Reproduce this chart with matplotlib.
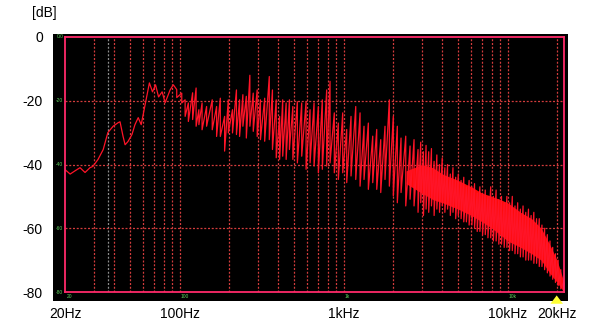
import numpy as np
import matplotlib
matplotlib.use("Agg")
import matplotlib.pyplot as plt
from matplotlib.patches import Rectangle

plt.rcParams['font.family'] = ['Liberation Sans', 'DejaVu Sans']

# low end of the spectrum, traced as a plain line (Hz, dB)
low_f = [20, 21.5, 23, 24.7, 26.5, 28.4, 29.6, 31.8, 34.2, 36.5, 39.3, 42.1, 43.3,
         45.2, 46.5, 48.4, 51.2, 53.4, 55.9, 58.3, 59.9, 63.6, 65.4, 68.3, 71.3,
         74.4, 78.2, 81.6, 87.5, 91.5]
low_db = [-41.6, -43, -42, -41, -42.5, -41, -40.6, -38.4, -35.3, -30, -28, -26.9, -26.6,
          -31.2, -33.8, -32.8, -30.6, -27.5, -25.3, -27.5, -24.4, -17.5, -14.4, -17.2, -15,
          -18.8, -17.2, -20.6, -16.6, -15]

# spiky part: each spike has a frequency, a top and a bottom level
spike_f = [96, 103, 108, 113, 120, 126, 131, 137, 146, 158, 168, 177, 188, 198, 210,
           222, 232, 243, 255, 268, 281, 297, 311, 330, 352, 368, 388, 407, 425, 446,
           467, 490, 522, 555, 590, 624, 660, 701, 741, 788, 826, 877, 928, 987, 1044,
           1109, 1185, 1259, 1331, 1414, 1504, 1591, 1683, 1787, 1899, 2008, 2124, 2238,
           2391, 2540, 2686, 2841, 2950, 3065, 3180, 3300, 3430, 3560, 3700, 3840, 3990,
           4140, 4300, 4470, 4640, 4820, 5000, 5200, 5400, 5600, 5820, 6050, 6280, 6520,
           6770, 7030, 7300, 7580, 7880, 8180, 8500, 8830, 9170, 9520, 9890, 10270, 10670,
           11080, 11510, 11950, 12410, 12890, 13390, 13900, 14440, 15000, 15580, 16180,
           16800, 17450, 18120, 18820, 19550, 20300, 21080, 21900]
spike_top = [-16.5, -17.6, -19.7, -20.7, -17.5, -16.0, -22.8, -20.7, -21.8, -19.7, -21.8,
             -19.2, -24.9, -19.7, -22.8, -16.6, -19.7, -18.1, -18.6, -12.0, -17.6, -16.6,
             -19.7, -19.2, -12.4, -16.6, -19.7, -24.9, -19.7, -20.7, -19.7, -21.8,
             -20.3, -20.7, -20.3, -22.8, -20.7, -21.8, -19.7, -16.6, -13.9, -23.8, -27,
             -23.8, -29, -24.9, -21.8, -23.8, -28, -27, -31.1, -29, -32.2, -28, -19.7,
             -24.9, -28, -31.7, -31.1, -34.2, -32.2, -35.3, -33, -36, -34, -36, -35, -39,
             -37, -40, -38, -41, -40, -43, -41, -44, -43, -45, -44, -47, -45, -47, -46,
             -49, -47, -49, -48, -50, -47, -50, -48, -51, -50, -52, -50, -52, -50, -53,
             -52, -54, -53, -55, -54, -56, -55, -57, -57, -59, -60, -62, -64, -66, -68,
             -70, -73, -77]
spike_bot = [-19, -20.7, -24.9, -26.5, -25.9, -28, -27.5, -29.1, -28, -29.1, -31.2, -31.2,
             -35.8, -30.1, -30.1, -30.6, -31.2, -28, -31.7, -28, -29.6, -31.2, -32.2,
             -32.7, -32.2, -35.3, -37.9, -38.4, -37.4, -38.4, -35.3, -38.4,
             -39.5, -37.4, -41.5, -39.5, -40.5, -42.6, -41.5, -40.5, -39.5, -42.6, -44.7,
             -42.6, -45.7, -43.6, -44.7, -46.8, -44.7, -47.8, -45.7, -47.8, -48.8, -44.7,
             -46.8, -49.9, -52, -48.8, -53, -50.9, -53, -55, -52, -56, -54, -55, -53, -56,
             -54, -55, -53, -55, -54, -56, -55, -57, -56, -57, -58, -58, -59, -59, -60,
             -61, -61, -62, -62, -63, -63, -64, -64, -65, -65, -66, -66, -67, -67, -68,
             -68, -69, -69, -70, -70, -70, -71, -71, -72, -72, -73, -74, -75, -76, -77,
             -78, -79, -80]

# dense core of the high-frequency band
band_f = [2400, 3000, 3500, 4000, 5000, 6000, 7000, 8000, 9000, 10000, 12000,
          14000, 16000, 18000, 20000, 22050]
band_hi = [-42, -40, -41, -43, -45, -47, -49, -50, -51, -52, -55, -57, -60, -65, -70, -77]
band_lo = [-46, -49, -51, -52, -54, -56, -58, -60, -62, -64, -66, -68, -70, -74, -77, -80]

x_ticks = [20, 100, 1000, 10000, 20000]
x_labels = ['20Hz', '100Hz', '1kHz', '10kHz', '20kHz']
y_ticks = [0, -20, -40, -60, -80]
y_labels = ['0', '-20', '-40', '-60', '-80']
grid_f = [30, 40, 50, 60, 70, 80, 90, 100, 200, 300, 400, 500, 600, 700, 800, 900,
          1000, 2000, 3000, 4000, 5000, 6000, 7000, 8000, 9000, 10000, 20000]
marker_f = 36.6
green_y = ['0.0', '-20', '-40', '-60', '-80']
green_x = ['20', '100', '1k', '10k']

W, H = 600, 332
fig = plt.figure(figsize=(W / 100, H / 100), dpi=100)
fig.patch.set_facecolor('white')

# black analyser panel behind the plot
fig.add_artist(Rectangle((53 / W, 1 - 301 / H), (568 - 53) / W, (301 - 34) / H,
                         transform=fig.transFigure, facecolor='black',
                         edgecolor='none', zorder=0))

ax = fig.add_axes([65 / W, 1 - 292 / H, (564 - 65) / W, (292 - 37) / H])
ax.set_facecolor('none')
ax.set_xscale('log')
ax.set_xlim(20, 22050)
ax.set_ylim(-80, 0)

grid_c = '#d23c3c'
for f in grid_f:
    ax.axvline(f, color=grid_c, lw=0.9, ls=(0, (1.6, 1.4)), zorder=1)
ax.axvline(marker_f, color='#8c8c8c', lw=0.9, ls=(0, (1.6, 1.4)), zorder=1)
for d in [-20, -40, -60]:
    ax.axhline(d, color=grid_c, lw=0.9, ls=(0, (1.6, 1.4)), zorder=1)

ax.fill_between(band_f, band_lo, band_hi, color='#ff0a0a', lw=0, zorder=2)

sf = np.array(spike_f, dtype=float)
xs = np.concatenate([low_f, np.column_stack([sf, sf]).ravel()])
ys = np.concatenate([low_db, np.column_stack([spike_top, spike_bot]).ravel()])
ax.plot(xs, ys, color='#ff1428', lw=0.9, zorder=3)

for s in ax.spines.values():
    s.set_color('#ff2a6a')
    s.set_linewidth(1.3)
    s.set_zorder(4)

ax.set_xticks(x_ticks)
ax.set_xticklabels(x_labels)
ax.xaxis.set_minor_locator(matplotlib.ticker.NullLocator())
ax.set_yticks(y_ticks)
ax.set_yticklabels(y_labels)
ax.tick_params(axis='x', length=0, pad=11, labelsize=10)
ax.tick_params(axis='y', length=0, pad=16, labelsize=10)

for d, t in zip(y_ticks, green_y):
    ax.text(18.6, d, t, color='#5fd35f', fontsize=3.5, ha='center', va='center',
            clip_on=False, zorder=5)
for f, t in zip(x_ticks, green_x):
    ax.text(f * 1.02, -81.5, t, color='#5fd35f', fontsize=3.5, ha='left', va='center',
            clip_on=False, zorder=5)

# yellow cursor arrow at 20 kHz
ax.annotate('', xy=(19900, -80.2), xytext=(19900, -83.2), annotation_clip=False,
            arrowprops=dict(arrowstyle='simple,head_width=0.9,head_length=0.6,tail_width=0.4',
                            color='#ffff33', lw=0))

fig.text(32 / W, 1 - 13 / H, '[dB]', fontsize=10, ha='left', va='center')

fig.savefig('out.png', dpi=100)
